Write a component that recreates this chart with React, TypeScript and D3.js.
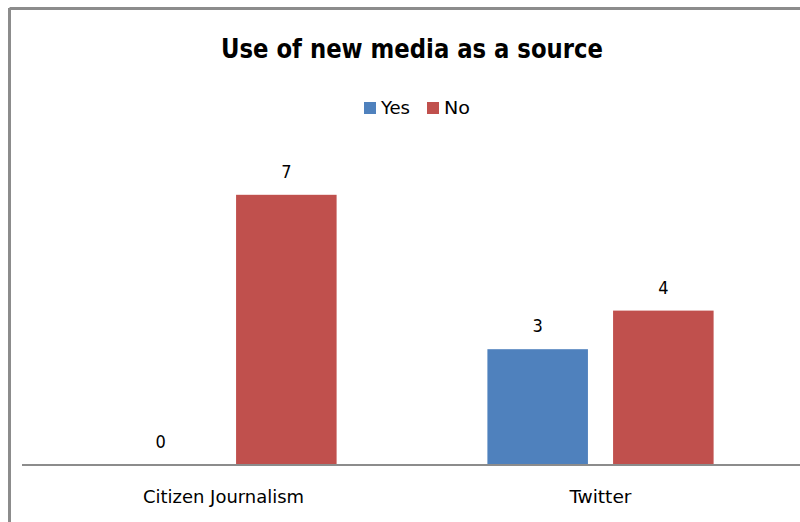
import React from "react";
import * as d3 from "d3";

const categories = ["Citizen Journalism", "Twitter"];
const seriesNames = ["Yes", "No"];
const yesValues = [0, 3];
const noValues = [7, 4];
const seriesColors = ["#4F81BD", "#C0504D"];
const title = "Use of new media as a source";

const W = 800;
const H = 522;
const FONT = "'DejaVu Sans Condensed', 'Liberation Sans Narrow', 'Open Sans', sans-serif";

export default function App() {
  const axisY = 465;
  const x0 = d3.scaleBand<string>().domain(categories).range([35, 789]).paddingInner(0.4).paddingOuter(0.2);
  const x1 = d3.scaleBand<string>().domain(seriesNames).range([0, x0.bandwidth()]).paddingInner(0.2);
  const y = d3.scaleLinear().domain([0, 8]).range([axisY, axisY - 8 * 38.6]);
  const series = [yesValues, noValues];
  const catLabelWidths = [161, 62];

  return (
    <svg width={W} height={H} style={{ position: "absolute", left: 0, top: 0, background: "#fff" }}>
      <rect x={0} y={0} width={W} height={H} fill="#fff" />
      {/* border */}
      <line x1={9.5} y1={8.5} x2={W} y2={8.5} stroke="#8c8c8c" strokeWidth={3} />
      <line x1={9.5} y1={8} x2={9.5} y2={H} stroke="#8c8c8c" strokeWidth={3} />
      {/* title */}
      <text x={412} y={58} textAnchor="middle" fontFamily={FONT} fontWeight="bold" fontSize={26} fill="#000" textLength={382} lengthAdjust="spacingAndGlyphs">
        {title}
      </text>
      {/* legend */}
      {seriesNames.map((s, i) => {
        const lx = [364, 427][i];
        const tw = [29, 26][i];
        return (
          <g key={s}>
            <rect x={lx} y={102} width={12} height={12} fill={seriesColors[i]} />
            <text x={lx + 17} y={114} fontFamily={FONT} fontSize={18} fill="#000" textLength={tw} lengthAdjust="spacingAndGlyphs">{s}</text>
          </g>
        );
      })}
      {/* bars */}
      {categories.map((c, ci) => (
        <g key={c} transform={`translate(${x0(c)},0)`}>
          {seriesNames.map((s, si) => {
            const v = series[si][ci];
            const bx = x1(s)!;
            return (
              <g key={s}>
                {v > 0 && (
                  <rect x={bx} y={y(v)} width={x1.bandwidth()} height={axisY - y(v)} fill={seriesColors[si]} />
                )}
                <text x={bx + x1.bandwidth() / 2} y={y(v) - 17} textAnchor="middle" fontFamily={FONT} fontSize={18} fill="#000">
                  {v}
                </text>
              </g>
            );
          })}
        </g>
      ))}
      {/* axis */}
      <line x1={22} y1={axisY} x2={W} y2={axisY} stroke="#8c8c8c" strokeWidth={2} />
      {categories.map((c, ci) => (
        <text key={c} x={x0(c)! + x0.bandwidth() / 2} y={503} textAnchor="middle" fontFamily={FONT} fontSize={18} fill="#000" textLength={catLabelWidths[ci]} lengthAdjust="spacingAndGlyphs">
          {c}
        </text>
      ))}
    </svg>
  );
}
